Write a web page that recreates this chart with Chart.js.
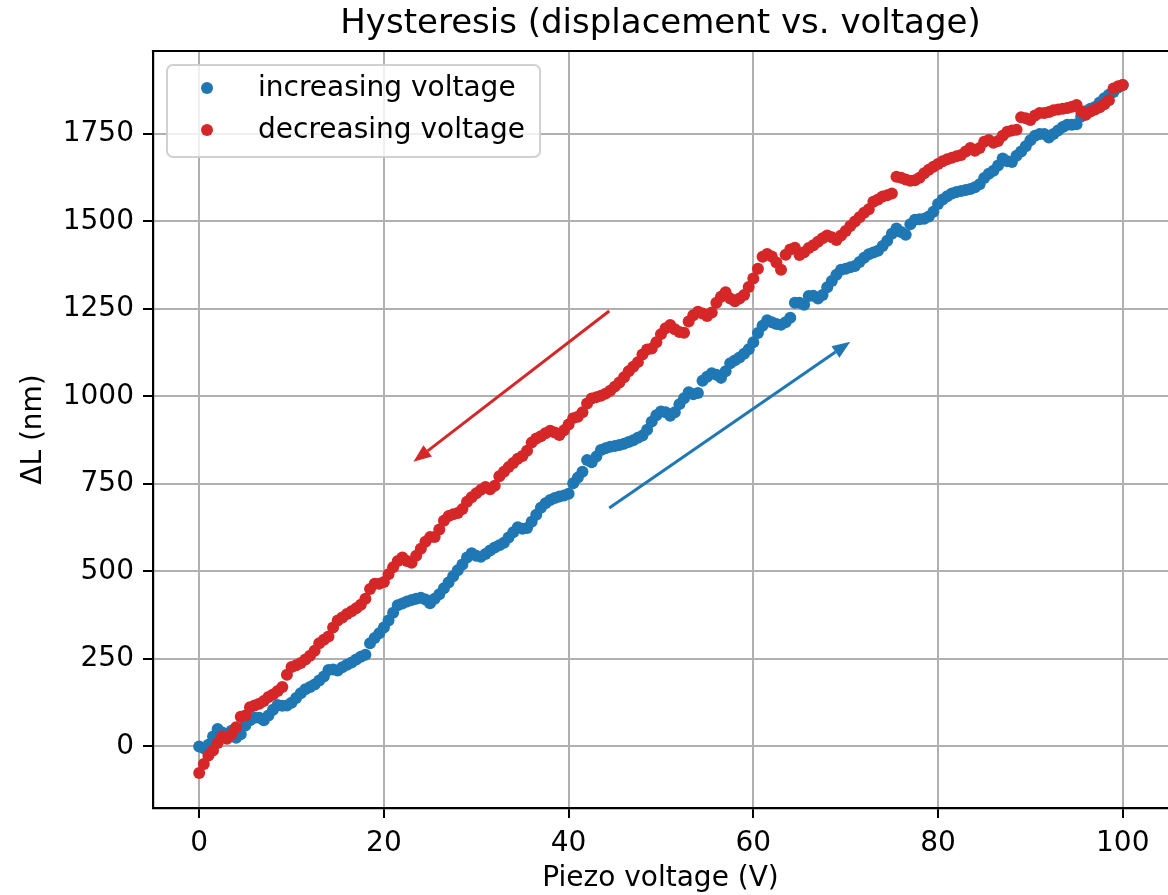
<!DOCTYPE html>
<html>
<head>
<meta charset="utf-8">
<script src="https://cdn.jsdelivr.net/npm/chart.js@4.4.1/dist/chart.umd.min.js"></script>
<style>
  html, body { margin: 0; padding: 0; background: #ffffff; }
  #c { display: block; }
</style>
</head>
<body>
<canvas id="c" width="1168" height="895"></canvas>
<script>
// ---------------- data ----------------
const voltages = [
  0,0.5,1,1.5,2,2.5,3,3.5,4,4.5,
  5,5.5,6,6.5,7,7.5,8,8.5,9,9.5,
  10,10.5,11,11.5,12,12.5,13,13.5,14,14.5,
  15,15.5,16,16.5,17,17.5,18,18.5,19,19.5,
  20,20.5,21,21.5,22,22.5,23,23.5,24,24.5,
  25,25.5,26,26.5,27,27.5,28,28.5,29,29.5,
  30,30.5,31,31.5,32,32.5,33,33.5,34,34.5,
  35,35.5,36,36.5,37,37.5,38,38.5,39,39.5,
  40,40.5,41,41.5,42,42.5,43,43.5,44,44.5,
  45,45.5,46,46.5,47,47.5,48,48.5,49,49.5,
  50,50.5,51,51.5,52,52.5,53,53.5,54,54.5,
  55,55.5,56,56.5,57,57.5,58,58.5,59,59.5,
  60,60.5,61,61.5,62,62.5,63,63.5,64,64.5,
  65,65.5,66,66.5,67,67.5,68,68.5,69,69.5,
  70,70.5,71,71.5,72,72.5,73,73.5,74,74.5,
  75,75.5,76,76.5,77,77.5,78,78.5,79,79.5,
  80,80.5,81,81.5,82,82.5,83,83.5,84,84.5,
  85,85.5,86,86.5,87,87.5,88,88.5,89,89.5,
  90,90.5,91,91.5,92,92.5,93,93.5,94,94.5,
  95,95.5,96,96.5,97,97.5,98,98.5,99,99.5,
  100
];

// displacement (nm) while voltage increases
const increasingL = [
  0,-5,5,28,50,40,30,45,25,35,
  60,75,82,82,75,88,105,118,116,117,
  125,138,152,163,170,177,188,200,218,220,
  217,226,233,240,248,256,262,295,310,323,
  340,360,382,403,408,414,418,422,425,420,
  409,422,435,452,468,486,503,520,540,552,
  545,542,550,560,568,575,582,597,612,626,
  622,624,642,662,682,695,704,710,714,717,
  722,752,768,785,818,812,828,847,852,856,
  858,861,865,870,875,882,888,905,928,946,
  957,955,945,955,978,995,1012,1006,1010,1045,
  1056,1066,1062,1053,1072,1095,1103,1111,1122,1135,
  1155,1181,1202,1218,1212,1207,1205,1212,1225,1268,
  1268,1262,1287,1288,1280,1290,1312,1330,1348,1362,
  1365,1369,1373,1384,1396,1406,1411,1416,1430,1445,
  1465,1480,1470,1462,1492,1505,1506,1508,1514,1528,
  1550,1563,1572,1580,1584,1587,1590,1593,1598,1606,
  1624,1636,1645,1660,1680,1672,1670,1688,1700,1715,
  1732,1745,1750,1750,1740,1750,1760,1770,1776,1776,
  1778,1800,1815,1822,1827,1840,1852,1862,1870,1883,
  1890
];

// displacement (nm) while voltage decreases (listed by voltage, low to high)
const decreasingL = [
  -76,-50,-26,-12,10,28,22,35,55,85,
  88,112,117,122,130,141,148,158,170,205,
  227,232,238,248,259,273,295,305,314,340,
  360,368,378,386,395,405,422,450,465,465,
  470,492,512,530,540,530,525,545,565,585,
  598,598,620,645,658,663,667,678,699,712,
  723,733,741,735,745,772,785,798,810,822,
  830,845,868,880,886,895,902,897,890,903,
  920,938,942,955,980,994,998,1002,1008,1016,
  1028,1040,1055,1072,1085,1098,1120,1134,1137,1155,
  1178,1195,1204,1192,1184,1182,1214,1232,1242,1237,
  1230,1240,1268,1285,1298,1280,1272,1280,1290,1313,
  1337,1365,1399,1407,1400,1383,1362,1405,1420,1425,
  1404,1412,1424,1432,1442,1452,1460,1455,1447,1460,
  1473,1487,1500,1512,1525,1535,1556,1563,1571,1575,
  1580,1628,1625,1620,1616,1618,1625,1638,1648,1656,
  1664,1672,1678,1682,1686,1690,1700,1710,1702,1710,
  1728,1733,1725,1730,1745,1756,1760,1762,1798,1795,
  1790,1803,1810,1810,1813,1818,1820,1822,1824,1828,
  1833,1815,1805,1814,1820,1826,1835,1846,1880,1886,
  1890
];

const xTicks = [0, 20, 40, 60, 80, 100];
const yTicks = [0, 250, 500, 750, 1000, 1250, 1500, 1750];

// arrows: [fromV, fromL, toV, toL]
const decreasingArrow = [44.4, 1244, 23.2, 813];
const increasingArrow = [44.4, 681, 70.5, 1156];

const seriesLabels = ['increasing voltage', 'decreasing voltage'];
const chartTitle = 'Hysteresis (displacement vs. voltage)';
const xTitle = 'Piezo voltage (V)';
const yTitle = '\u0394L (nm)';

// ---------------- styling ----------------
const BLUE = '#1f77b4';
const RED = '#d62728';
const FONT = '"DejaVu Sans", "Liberation Sans", sans-serif';
const DOT_R = 6;

const toPts = (ys) => voltages.map((v, i) => ({ x: v, y: ys[i] }));

const frameAndArrows = {
  id: 'frameAndArrows',
  afterDatasetsDraw(chart) {
    const { ctx, chartArea: a, scales: { x, y } } = chart;
    ctx.save();
    // top spine
    ctx.strokeStyle = '#000';
    ctx.lineWidth = 2.2;
    ctx.beginPath();
    ctx.moveTo(a.left - 1.1, a.top);
    ctx.lineTo(a.right, a.top);
    ctx.stroke();

    const drawArrow = (arr, color) => {
      const x1 = x.getPixelForValue(arr[0]), y1 = y.getPixelForValue(arr[1]);
      const x2 = x.getPixelForValue(arr[2]), y2 = y.getPixelForValue(arr[3]);
      const ang = Math.atan2(y2 - y1, x2 - x1);
      const headLen = 18, headHalf = 7;
      const bx = x2 - headLen * Math.cos(ang), by = y2 - headLen * Math.sin(ang);
      ctx.strokeStyle = color;
      ctx.fillStyle = color;
      ctx.lineWidth = 3;
      ctx.beginPath();
      ctx.moveTo(x1, y1);
      ctx.lineTo(bx, by);
      ctx.stroke();
      ctx.beginPath();
      ctx.moveTo(x2, y2);
      ctx.lineTo(bx + headHalf * Math.sin(ang), by - headHalf * Math.cos(ang));
      ctx.lineTo(bx - headHalf * Math.sin(ang), by + headHalf * Math.cos(ang));
      ctx.closePath();
      ctx.fill();
    };
    drawArrow(decreasingArrow, RED);
    drawArrow(increasingArrow, BLUE);

    // legend inside axes (upper left)
    const items = [
      { text: seriesLabels[0], color: BLUE },
      { text: seriesLabels[1], color: RED }
    ];
    ctx.font = '28px ' + FONT;
    let maxW = 0;
    items.forEach(it => { maxW = Math.max(maxW, ctx.measureText(it.text).width); });
    const bx0 = a.left + 14, by0 = a.top + 14;
    const markerX = bx0 + 40, textX = bx0 + 91;
    const rowH = 42, firstRow = by0 + 23;
    const bw = (textX - bx0) + maxW + 15, bh = 92;
    ctx.beginPath();
    if (ctx.roundRect) ctx.roundRect(bx0, by0, bw, bh, 6); else ctx.rect(bx0, by0, bw, bh);
    ctx.fillStyle = 'rgba(255,255,255,0.8)';
    ctx.fill();
    ctx.strokeStyle = 'rgba(204,204,204,0.9)';
    ctx.lineWidth = 2;
    ctx.stroke();
    items.forEach((it, i) => {
      const cy = firstRow + i * rowH;
      ctx.beginPath();
      ctx.arc(markerX, cy, DOT_R, 0, Math.PI * 2);
      ctx.fillStyle = it.color;
      ctx.fill();
      ctx.fillStyle = '#000';
      ctx.textBaseline = 'middle';
      ctx.textAlign = 'left';
      ctx.fillText(it.text, textX, cy + 1);
    });
    ctx.restore();
  }
};

new Chart(document.getElementById('c'), {
  type: 'scatter',
  data: {
    datasets: [
      {
        label: seriesLabels[0],
        data: toPts(increasingL),
        backgroundColor: BLUE,
        borderColor: BLUE,
        borderWidth: 0,
        pointRadius: DOT_R,
        pointHoverRadius: DOT_R,
        order: 1
      },
      {
        label: seriesLabels[1],
        data: toPts(decreasingL),
        backgroundColor: RED,
        borderColor: RED,
        borderWidth: 0,
        pointRadius: DOT_R,
        pointHoverRadius: DOT_R,
        order: 0
      }
    ]
  },
  options: {
    responsive: false,
    animation: false,
    devicePixelRatio: 1,
    events: [],
    layout: { autoPadding: false, padding: { top: 0, right: 0, bottom: 0, left: 0 } },
    plugins: {
      legend: { display: false },
      tooltip: { enabled: false },
      title: {
        display: true,
        text: chartTitle,
        fullSize: false,
        color: '#000',
        font: { family: FONT, size: 34, weight: 'normal', lineHeight: 1.2 },
        padding: { top: 4, bottom: 6.2 }
      }
    },
    scales: {
      x: {
        type: 'linear',
        min: -5,
        max: 104.9,
        afterBuildTicks: (s) => { s.ticks = xTicks.map(v => ({ value: v })); },
        afterFit: (s) => { s.height = 87; s.paddingLeft = 0; s.paddingRight = 0; },
        grid: {
          color: '#b0b0b0',
          lineWidth: 2,
          tickColor: '#000',
          tickWidth: 2,
          tickLength: 10,
          drawTicks: true
        },
        border: { display: true, color: '#000', width: 2.2 },
        ticks: {
          color: '#000',
          padding: 9,
          maxRotation: 0,
          font: { family: FONT, size: 28 },
          callback: (v) => String(v)
        },
        title: {
          display: true,
          text: xTitle,
          color: '#000',
          font: { family: FONT, size: 28, lineHeight: 1.2 },
          padding: { top: 0, bottom: -1 }
        }
      },
      y: {
        type: 'linear',
        min: -176,
        max: 1987,
        afterBuildTicks: (s) => { s.ticks = yTicks.map(v => ({ value: v })); },
        afterFit: (s) => { s.width = 153; },
        grid: {
          color: '#b0b0b0',
          lineWidth: 2,
          tickColor: '#000',
          tickWidth: 2,
          tickLength: 10,
          drawTicks: true
        },
        border: { display: true, color: '#000', width: 2.2 },
        ticks: {
          color: '#000',
          padding: 9,
          font: { family: FONT, size: 28 },
          callback: (v) => String(v)
        },
        title: {
          display: true,
          text: yTitle,
          color: '#000',
          font: { family: FONT, size: 28, lineHeight: 1.2 },
          padding: { top: 17, bottom: 0 }
        }
      }
    }
  },
  plugins: [frameAndArrows]
});
</script>
</body>
</html>
